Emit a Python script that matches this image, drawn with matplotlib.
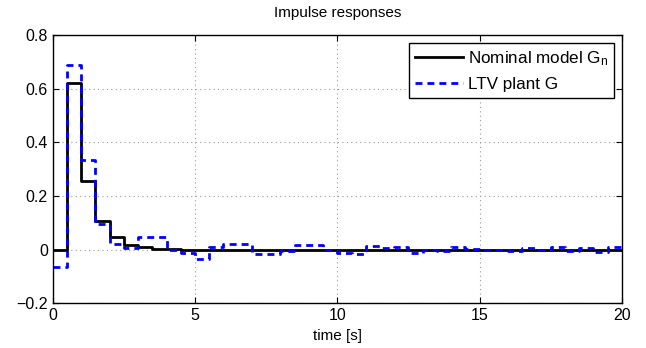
import matplotlib
matplotlib.use("Agg")
import matplotlib.pyplot as plt
import numpy as np

# sample instants (0.5 s sampling) and impulse response values
t = np.arange(41) * 0.5
nominal = [0.0, 0.62, 0.256, 0.106, 0.045, 0.018, 0.008, 0.003, 0.001] + [0.0] * 32
ltv = [-0.065, 0.69, 0.333, 0.097, 0.021, 0.005, 0.046, 0.045, 0.0, -0.012,
       -0.035, 0.008, 0.021, 0.019, -0.016, -0.016, -0.007, 0.018, 0.018, 0.0,
       -0.013, -0.015, 0.012, 0.004, 0.01, -0.014, -0.003, -0.007, 0.01, 0.002,
       0.0, -0.003, -0.006, 0.005, -0.003, 0.008, -0.007, 0.005, -0.008, 0.008,
       0.005]
xticks = [0, 5, 10, 15, 20]
yticks = [-0.2, 0.0, 0.2, 0.4, 0.6, 0.8]

plt.rcParams["font.family"] = ["Liberation Sans", "DejaVu Sans"]
plt.rcParams["mathtext.fontset"] = "custom"
plt.rcParams["mathtext.rm"] = "Liberation Sans"
plt.rcParams["mathtext.it"] = "Liberation Sans"

fig = plt.figure(figsize=(6.46, 3.48), dpi=100)
ax = fig.add_axes([0.0816, 0.129, 0.881, 0.770])

ax.step(t, nominal, where="post", color="black", lw=2, label="Nominal model G$_\\mathrm{n}$")
ax.step(t, ltv, where="post", color="#0000ff", lw=2, dashes=(2.5, 1.8),
        label="LTV plant G")

ax.set_xlim(0, 20)
ax.set_ylim(-0.2, 0.8)
ax.set_xticks(xticks)
ax.set_yticks(yticks)
ax.set_yticklabels(["\u22120.2", "0", "0.2", "0.4", "0.6", "0.8"])
ax.tick_params(direction="in", top=True, right=True, length=4, labelsize=11.5, width=0.8)
ax.grid(True, color="#999999", linestyle=(0, (1, 3)), lw=0.8)
for s in ax.spines.values():
    s.set_linewidth(1)

ax.set_title("Impulse responses", fontsize=11, pad=13)
ax.set_xlabel("time [s]", fontsize=11, labelpad=4)

leg = ax.legend(loc="upper right", fontsize=12.3, handlelength=2.8, fancybox=False,
                framealpha=1, edgecolor="black", borderaxespad=0.45,
                handletextpad=0.3, labelspacing=0.55, borderpad=0.35)
leg.get_frame().set_linewidth(1)

fig.savefig("out.png", dpi=100)
